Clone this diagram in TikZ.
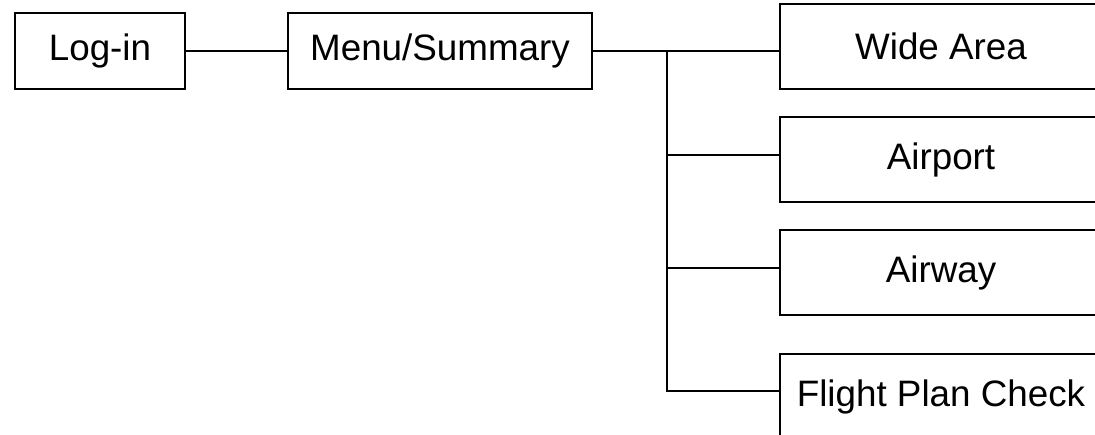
\documentclass[tikz,border=0pt]{standalone}
\usepackage{fontspec}
\setmainfont{Liberation Sans}
\usepackage{tikz}
\usetikzlibrary{arrows}

\begin{document}
\begin{tikzpicture}[line cap=rect,line join=miter,x=0.5pt,y=-0.5pt,
                    screen/.style={draw=black,line width=1pt,fill=white,inner sep=0pt,font=\fontsize{18.4}{22}\selectfont},
                    link/.style={draw=black,line width=1pt}]
                                      \useasboundingbox (0,0) rectangle (1095,434);
                                      \node[screen,minimum width=85pt,minimum height=38pt] (login) at (100,51) {Log-in};
                                      \node[screen,minimum width=152pt,minimum height=38pt] (menu) at (440,51) {Menu/Summary};
                                      \node[screen,minimum width=161pt,minimum height=42.5pt] (wide) at (941,46.5) {Wide Area};
                                      \node[screen,minimum width=161pt,minimum height=42.5pt] (airport) at (941,159.5) {Airport};
                                      \node[screen,minimum width=161pt,minimum height=42.5pt] (airway) at (941,272.5) {Airway};
                                      \node[screen,minimum width=161pt,minimum height=42.5pt] (fpc) at (941,396.5) {Flight Plan Check};
                                      \coordinate (j0) at (667,51);
                                      \coordinate (j1) at (667,155);
                                      \coordinate (j2) at (667,268);
                                      \coordinate (j3) at (667,391);
                                      \draw[link] (login.east) -- (menu.west);
                                      \draw[link] (menu.east) -- (j0) -- (j0 -| wide.west);
                                      \draw[link] (j0) -- (j3);
                                      \draw[link] (j1) -- (j1 -| airport.west);
                                      \draw[link] (j2) -- (j2 -| airway.west);
                                      \draw[link] (j3) -- (j3 -| fpc.west);
                                  \end{tikzpicture}
\end{document}
